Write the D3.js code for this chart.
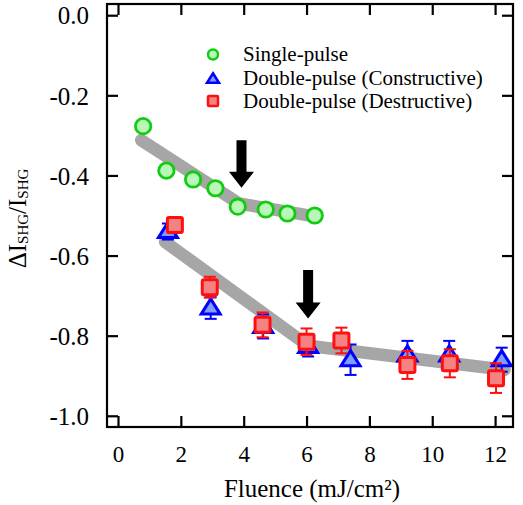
<!DOCTYPE html>
<html>
<head>
<meta charset="utf-8">
<script src="https://cdn.jsdelivr.net/npm/d3@7"></script>
<style>
  html, body { margin: 0; padding: 0; background: #fff; }
  svg, svg text { font-family: 'Liberation Serif', 'Times New Roman', Times, 'Nimbus Roman', 'Nimbus Roman No9 L', 'DejaVu Serif', serif !important; }
</style>
</head>
<body>
<svg id="chart" width="523" height="505"></svg>
<script>
// ---- data ----
const xTicks = [0, 2, 4, 6, 8, 10, 12];
const xTickLabels = ["0", "2", "4", "6", "8", "10", "12"];
const yTicks = [0.0, -0.2, -0.4, -0.6, -0.8, -1.0];
const yTickLabels = ["0.0", "-0.2", "-0.4", "-0.6", "-0.8", "-1.0"];

const singleX = [0.80, 1.54, 2.39, 3.10, 3.81, 4.70, 5.39, 6.26];
const singleY = [-0.277, -0.388, -0.410, -0.432, -0.478, -0.485, -0.495, -0.500];

const consX   = [1.59, 2.95, 4.62, 6.05, 7.40, 9.21, 10.54, 12.21];
const consY   = [-0.540, -0.731, -0.777, -0.827, -0.860, -0.848, -0.848, -0.860];
const consErr = [0.020, 0.027, 0.030, 0.025, 0.038, 0.035, 0.035, 0.030];

const desX    = [1.81, 2.92, 4.60, 6.00, 7.11, 9.21, 10.56, 12.03];
const desY    = [-0.524, -0.679, -0.773, -0.815, -0.812, -0.873, -0.869, -0.906];
const desErr  = [0.010, 0.026, 0.031, 0.033, 0.032, 0.035, 0.035, 0.037];

// guide lines (gray) : vertices
const singleGuideX = [0.74, 3.85, 6.30];
const singleGuideY = [-0.312, -0.470, -0.503];
const doubleGuideX = [1.50, 6.05, 12.30];
const doubleGuideY = [-0.566, -0.825, -0.885];

// arrows: x, y top of shaft, y tip
const arrowX = [3.93, 6.05];
const arrowTop = [-0.312, -0.636];
const arrowTip = [-0.431, -0.757];

const legendLabels = ["Single-pulse", "Double-pulse (Constructive)", "Double-pulse (Destructive)"];

// ---- layout ----
const FONT = "'Liberation Serif', 'Times New Roman', Times, 'Nimbus Roman', 'DejaVu Serif', serif";
const svg = d3.select("#chart");
const L = 107, R = 513, T = 4, B = 427;
const x = d3.scaleLinear().domain([-0.35, 12.57]).range([L, R]);
const y = d3.scaleLinear().domain([0.028, -1.028]).range([T, B]);

const green = "#11cc11", greenFill = "#b9f7b9";
const blue = "#0000ff", blueFill = "#7f9cff";
const red = "#ff1010", redFill = "#f58282";
const gray = "#a6a6a6";

// gray guides
const lineGen = d3.line().x(d => x(d[0])).y(d => y(d[1]));
[[singleGuideX, singleGuideY], [doubleGuideX, doubleGuideY]].forEach(([gx, gy]) => {
  svg.append("path")
    .attr("d", lineGen(gx.map((v, i) => [v, gy[i]])))
    .attr("fill", "none").attr("stroke", gray).attr("stroke-width", 12.5)
    .attr("stroke-linecap", "round").attr("stroke-linejoin", "round");
});

// arrows
arrowX.forEach((ax, i) => {
  const cx = x(ax), yt = y(arrowTop[i]), yp = y(arrowTip[i]);
  const hh = 16, hw = 12.5, sw = 5;
  svg.append("path")
    .attr("d", `M${cx - sw},${yt} L${cx + sw},${yt} L${cx + sw},${yp - hh} L${cx + hw},${yp - hh} L${cx},${yp} L${cx - hw},${yp - hh} L${cx - sw},${yp - hh} Z`)
    .attr("fill", "#000");
});

function errorBars(xs, ys, es, color) {
  const g = svg.append("g").attr("stroke", color).attr("stroke-width", 2).attr("fill", "none");
  xs.forEach((xv, i) => {
    const cx = x(xv), y1 = y(ys[i] + es[i]), y2 = y(ys[i] - es[i]);
    g.append("line").attr("x1", cx).attr("x2", cx).attr("y1", y1).attr("y2", y2);
    g.append("line").attr("x1", cx - 6).attr("x2", cx + 6).attr("y1", y1).attr("y2", y1);
    g.append("line").attr("x1", cx - 6).attr("x2", cx + 6).attr("y1", y2).attr("y2", y2);
  });
}

function triPath(cx, cy, w) {
  const h = w * 0.8;
  return `M${cx},${cy - h * 0.6} L${cx + w / 2},${cy + h * 0.4} L${cx - w / 2},${cy + h * 0.4} Z`;
}

// constructive (triangles)
errorBars(consX, consY, consErr, blue);
svg.append("g").selectAll("path").data(consX).join("path")
  .attr("d", (d, i) => triPath(x(d), y(consY[i]), 19))
  .attr("fill", blueFill).attr("stroke", blue).attr("stroke-width", 3);

// destructive (squares)
errorBars(desX, desY, desErr, red);
svg.append("g").selectAll("rect").data(desX).join("rect")
  .attr("x", d => x(d) - 7.5).attr("y", (d, i) => y(desY[i]) - 7.5)
  .attr("width", 15).attr("height", 15).attr("rx", 1.5)
  .attr("fill", redFill).attr("stroke", red).attr("stroke-width", 3);

// single (circles)
svg.append("g").selectAll("circle").data(singleX).join("circle")
  .attr("cx", d => x(d)).attr("cy", (d, i) => y(singleY[i])).attr("r", 7.7)
  .attr("fill", greenFill).attr("stroke", green).attr("stroke-width", 2.8);

// frame
svg.append("rect").attr("x", L).attr("y", T).attr("width", R - L).attr("height", B - T)
  .attr("fill", "none").attr("stroke", "#000").attr("stroke-width", 2.2);

// axes with inward ticks
const tl = 11;
const gxB = svg.append("g").attr("transform", `translate(0,${B})`)
  .call(d3.axisBottom(x).tickValues(xTicks).tickSize(-tl).tickPadding(tl + 8).tickFormat((d, i) => xTickLabels[i]));
const gxT = svg.append("g").attr("transform", `translate(0,${T})`)
  .call(d3.axisTop(x).tickValues(xTicks).tickSize(-tl).tickFormat(""));
const gyL = svg.append("g").attr("transform", `translate(${L},0)`)
  .call(d3.axisLeft(y).tickValues(yTicks).tickSize(-tl).tickPadding(tl + 7).tickFormat((d, i) => yTickLabels[i]));
const gyR = svg.append("g").attr("transform", `translate(${R},0)`)
  .call(d3.axisRight(y).tickValues(yTicks).tickSize(-tl).tickFormat(""));

[gxB, gxT, gyL, gyR].forEach(g => {
  g.attr("font-family", FONT);
  g.select(".domain").remove();
  g.selectAll(".tick line").attr("stroke", "#000").attr("stroke-width", 2.2);
  g.selectAll("text").attr("fill", "#000").style("font-family", FONT);
});
gxB.selectAll("text").attr("font-size", 23);
gyL.selectAll("text").attr("font-size", 25).attr("dy", "0.35em");

// axis titles
svg.append("text").attr("x", (L + R) / 2 + 2).attr("y", 497)
  .attr("text-anchor", "middle").attr("font-size", 25).attr("fill", "#000")
  .style("font-family", FONT).text("Fluence (mJ/cm²)");

const ytl = svg.append("text").attr("transform", `translate(26,${(T + B) / 2 + 3}) rotate(-90)`)
  .attr("text-anchor", "middle").attr("font-size", 25).attr("fill", "#000").style("font-family", FONT);
ytl.append("tspan").text("ΔI");
ytl.append("tspan").attr("font-size", 15).attr("dy", 2).text("SHG");
ytl.append("tspan").attr("dy", -2).text("/I");
ytl.append("tspan").attr("font-size", 15).attr("dy", 2).text("SHG");

// legend
const lgX = 213, lgY = [54.5, 78.5, 101], txX = 243;
svg.append("circle").attr("cx", lgX).attr("cy", lgY[0]).attr("r", 5)
  .attr("fill", greenFill).attr("stroke", green).attr("stroke-width", 2.5);
svg.append("path").attr("d", triPath(lgX, lgY[1] + 0.5, 12))
  .attr("fill", blueFill).attr("stroke", blue).attr("stroke-width", 2.5);
svg.append("rect").attr("x", lgX - 5).attr("y", lgY[2] - 5).attr("width", 10).attr("height", 10).attr("rx", 1)
  .attr("fill", redFill).attr("stroke", red).attr("stroke-width", 2.5);
legendLabels.forEach((t, i) => {
  svg.append("text").attr("x", txX).attr("y", lgY[i]).attr("dy", "0.33em")
    .attr("font-size", 21).attr("fill", "#000").style("font-family", FONT).text(t);
});
</script>
</body>
</html>
